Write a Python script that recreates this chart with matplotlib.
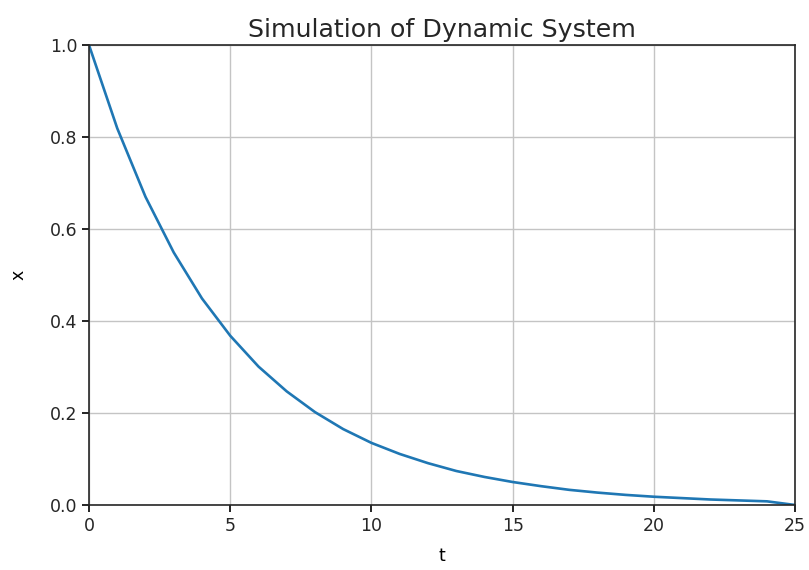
import matplotlib
matplotlib.use('Agg')
from matplotlib import pyplot as plt

t = list(range(26))
x = [1.0, 0.819, 0.670, 0.549, 0.449, 0.368, 0.301, 0.247, 0.202, 0.165,
     0.135, 0.111, 0.091, 0.074, 0.061, 0.050, 0.041, 0.033, 0.027, 0.022,
     0.018, 0.015, 0.012, 0.010, 0.008, 0.0]

plt.rcParams['font.size'] = 12.5
plt.rcParams['text.color'] = '#262626'
plt.rcParams['xtick.labelcolor'] = '#262626'
plt.rcParams['ytick.labelcolor'] = '#262626'
fig = plt.figure(figsize=(8.09, 5.70), dpi=100)
ax = fig.add_axes([0.110, 0.114, 0.873, 0.807])
ax.plot(t, x, color='#1f77b4', lw=1.9)
ax.set_xlim(0, 25)
ax.set_ylim(0, 1.0)
ax.set_xticks([0, 5, 10, 15, 20, 25])
ax.set_yticks([0.0, 0.2, 0.4, 0.6, 0.8, 1.0])
ax.grid(True, color='#c4c4c4', lw=1.0)
ax.set_title('Simulation of Dynamic System', fontsize=18.2, pad=6)
ax.set_xlabel('t', labelpad=9)
ax.set_ylabel('x', labelpad=16)
for s in ax.spines.values():
    s.set_linewidth(1.2)
    s.set_color('#262626')
ax.tick_params(width=1.2, length=5)
fig.savefig('out.png', dpi=100)
